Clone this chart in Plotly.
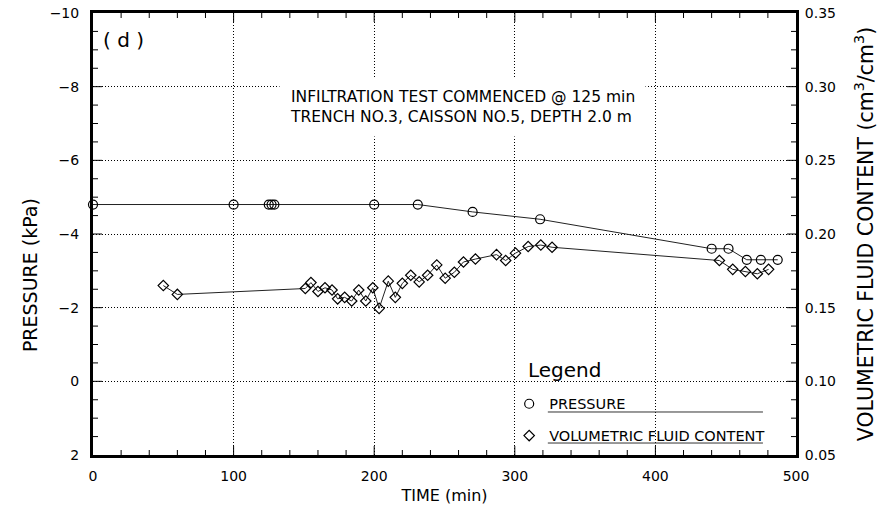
import plotly.graph_objects as go

# Pressure record (kPa) against elapsed time (min)
time_p = [0, 100, 125, 127, 129, 200, 231, 270, 318, 440, 452, 465, 475, 487]
pressure = [-4.8, -4.8, -4.8, -4.8, -4.8, -4.8, -4.8, -4.6, -4.4, -3.6, -3.6, -3.3, -3.3, -3.3]

# Volumetric fluid content (cm3/cm3) against elapsed time (min)
time_v = [50, 60, 151, 155, 160, 165, 170, 174, 179, 184, 189, 194, 199, 203.5,
          210, 215, 220, 226, 232, 238, 244.5, 250.5, 257, 263.5, 272, 287,
          293.5, 300.5, 309.5, 318.5, 326.5, 445.5, 455, 464, 472.5, 480.5]
vfc = [0.165, 0.159, 0.163, 0.167, 0.161, 0.1635, 0.162, 0.156, 0.157, 0.1545,
       0.162, 0.1545, 0.1635, 0.1495, 0.168, 0.157, 0.1665, 0.172, 0.1675, 0.172,
       0.179, 0.170, 0.174, 0.181, 0.183, 0.186, 0.182, 0.187, 0.1915, 0.1925,
       0.191, 0.182, 0.176, 0.1745, 0.173, 0.176]

FONT = "DejaVu Sans"
INK = "black"
PLOT_W, PLOT_H = 703, 442          # plotting area in px (886 - 93 - 90, 513 - 13 - 58)
MAJOR_LEN, MINOR_LEN = 9, 5        # inward tick lengths in px

fig = go.Figure()

# connecting lines
fig.add_trace(go.Scatter(x=time_p, y=pressure, mode="lines", showlegend=False,
                         line=dict(color="#222", width=1), cliponaxis=False))
fig.add_trace(go.Scatter(x=time_v, y=vfc, mode="lines", showlegend=False, yaxis="y2",
                         line=dict(color="#222", width=1), cliponaxis=False))
# markers (these carry the legend entries)
fig.add_trace(go.Scatter(x=time_p, y=pressure, mode="markers", name="PRESSURE",
                         legendgroup="p", cliponaxis=False,
                         marker=dict(symbol="circle-open", size=9, color=INK,
                                     line=dict(width=1.2, color=INK))))
fig.add_trace(go.Scatter(x=time_v, y=vfc, mode="markers", name="VOLUMETRIC FLUID CONTENT",
                         legendgroup="v", yaxis="y2", cliponaxis=False,
                         marker=dict(symbol="diamond-open", size=8, color=INK,
                                     line=dict(width=1.2, color=INK))))

# inward tick marks on all four frame sides
tick_shapes = []
for k in range(1, 25):                       # every 20 min
    t = 20 * k
    ln = (MAJOR_LEN if t % 100 == 0 else MINOR_LEN) / PLOT_H
    for y0, y1 in ((0, ln), (1 - ln, 1)):
        tick_shapes.append(dict(type="line", xref="x", yref="y domain", x0=t, x1=t,
                                y0=y0, y1=y1, line=dict(color=INK, width=1)))
for k in range(1, 24):                       # every 0.5 kPa (= 0.0125 on the right scale)
    p = -10 + 0.5 * k
    ln = (MAJOR_LEN if k % 4 == 0 else MINOR_LEN) / PLOT_W
    for x0, x1 in ((0, ln), (1 - ln, 1)):
        tick_shapes.append(dict(type="line", xref="x domain", yref="y", x0=x0, x1=x1,
                                y0=p, y1=p, line=dict(color=INK, width=1)))

grid = dict(showgrid=True, gridcolor=INK, gridwidth=1, griddash="1px,2px")

fig.update_layout(
    width=886, height=513,
    margin=dict(l=93, r=90, t=13, b=58, autoexpand=False),
    paper_bgcolor="white", plot_bgcolor="white",
    font=dict(family=FONT, color=INK, size=14),
    xaxis=dict(range=[0, 500], tickmode="linear", tick0=0, dtick=100,
               ticks="", showline=True, linewidth=3, linecolor=INK, mirror=True,
               zeroline=False, ticklabelstandoff=6, automargin=False,
               title=dict(text="TIME (min)", font=dict(size=16), standoff=8),
               **grid),
    yaxis=dict(range=[2, -10], tickmode="linear", tick0=0, dtick=2,
               ticks="", showline=True, linewidth=3, linecolor=INK,
               zeroline=False, ticklabelstandoff=8, automargin=False,
               **grid),
    yaxis2=dict(overlaying="y", side="right", range=[0.05, 0.35],
                tickmode="linear", tick0=0.05, dtick=0.05, tickformat=".2f",
                ticks="", showline=True, linewidth=3, linecolor=INK, showgrid=False,
                zeroline=False, ticklabelstandoff=3, automargin=False,
                title=dict(text="VOLUMETRIC FLUID CONTENT (cm<sup>3</sup>/cm<sup>3</sup>)",
                           font=dict(size=20.5), standoff=24)),
    legend=dict(x=0.592, y=0.152, xanchor="left", yanchor="top",
                bgcolor="rgba(0,0,0,0)", borderwidth=0, traceorder="grouped",
                tracegroupgap=10, itemwidth=30,
                font=dict(size=14.5)),
    shapes=[
        # blank panel behind the legend
        dict(type="rect", xref="paper", yref="paper", x0=0.6046, x1=0.967,
             y0=0, y1=0.242, fillcolor="white", line=dict(width=0), layer="between"),
        # legend underlines
        dict(type="line", xref="paper", yref="paper", x0=0.647, x1=0.953,
             y0=0.0973, y1=0.0973, line=dict(color="#333", width=1)),
        dict(type="line", xref="paper", yref="paper", x0=0.647, x1=0.953,
             y0=0.0271, y1=0.0271, line=dict(color="#333", width=1)),
    ] + tick_shapes,
    annotations=[
        dict(text="PRESSURE (kPa)", xref="paper", yref="paper", x=-0.0896, y=0.407,
             xanchor="center", yanchor="middle", textangle=-90, showarrow=False,
             font=dict(size=19)),
        dict(text="Legend", xref="paper", yref="paper", x=0.616, y=0.192,
             xanchor="left", yanchor="middle", showarrow=False, font=dict(size=20)),
        dict(text="( d )", xref="paper", yref="paper", x=0.0427, y=0.939,
             xanchor="center", yanchor="middle", showarrow=False, font=dict(size=20)),
        dict(text="INFILTRATION TEST COMMENCED @ 125 min<br>TRENCH NO.3, CAISSON NO.5, DEPTH 2.0 m",
             xref="paper", yref="paper", x=0.526, y=0.787, xanchor="center", yanchor="middle",
             showarrow=False, align="left", bgcolor="white", borderpad=10,
             font=dict(size=15.5)),
    ],
)

fig.write_html("out.html")
